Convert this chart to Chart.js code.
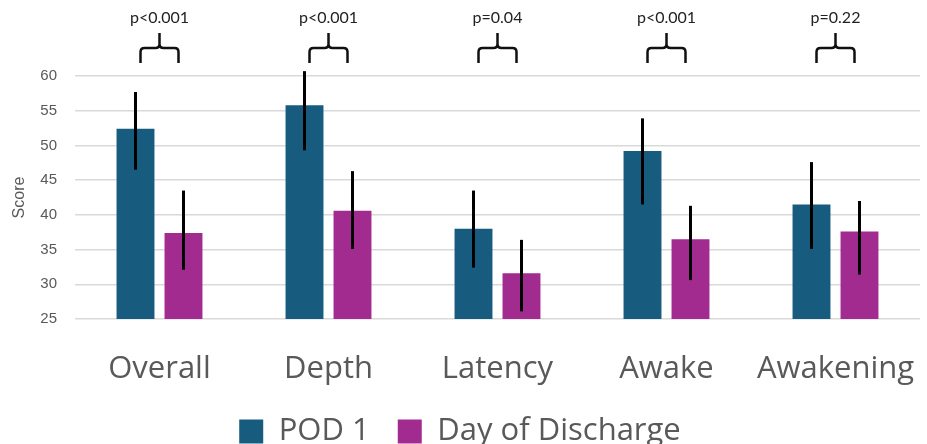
<!DOCTYPE html>
<html>
<head>
<meta charset="utf-8">
<script src="https://cdn.jsdelivr.net/npm/chart.js@4"></script>
<style>
  html, body { margin: 0; padding: 0; background: #fff; overflow: hidden; }
  #wrap { width: 927px; height: 444px; }
</style>
</head>
<body>
<div id="wrap"><canvas id="chart"></canvas></div>
<script>
// data
const categories = ['Overall', 'Depth', 'Latency', 'Awake', 'Awakening'];
const pod1 = [52.4, 55.8, 38.0, 49.2, 41.5];
const pod1Low = [46.5, 49.3, 32.4, 41.5, 35.1];
const pod1High = [57.7, 60.7, 43.5, 53.9, 47.6];
const discharge = [37.4, 40.6, 31.6, 36.5, 37.6];
const dischargeLow = [32.1, 35.1, 26.1, 30.6, 31.4];
const dischargeHigh = [43.5, 46.3, 36.4, 41.3, 42.0];
const pValues = ['p<0.001', 'p<0.001', 'p=0.04', 'p<0.001', 'p=0.22'];
const yMin = 25, yMax = 60, yStep = 5;

const errLow = [pod1Low, dischargeLow];
const errHigh = [pod1High, dischargeHigh];

const legendPad = 28;

// error bars, drawn at each bar's centre
const errorBars = {
  id: 'errorBars',
  afterDatasetsDraw(chart) {
    const ctx = chart.ctx;
    const y = chart.scales.y;
    ctx.save();
    ctx.strokeStyle = '#000';
    ctx.lineWidth = 3;
    chart.data.datasets.forEach((ds, d) => {
      chart.getDatasetMeta(d).data.forEach((bar, i) => {
        ctx.beginPath();
        ctx.moveTo(bar.x, y.getPixelForValue(errLow[d][i]));
        ctx.lineTo(bar.x, y.getPixelForValue(errHigh[d][i]));
        ctx.stroke();
      });
    });
    ctx.restore();
  }
};

// curly brackets + p values above each group
const brackets = {
  id: 'brackets',
  afterDraw(chart) {
    const ctx = chart.ctx;
    const x = chart.scales.x;
    ctx.save();
    ctx.strokeStyle = '#111';
    ctx.lineWidth = 2.5;
    ctx.lineJoin = 'round';
    ctx.fillStyle = '#222';
    ctx.font = '16px Lato';
    ctx.textAlign = 'center';
    ctx.textBaseline = 'middle';
    categories.forEach((c, i) => {
      const cx = x.getPixelForValue(i);
      const w = 19, top = 33, mid = 48, bot = 63;
      ctx.beginPath();
      ctx.moveTo(cx - w, bot);
      ctx.lineTo(cx - w, mid + 4);
      ctx.quadraticCurveTo(cx - w, mid, cx - w + 4, mid);
      ctx.lineTo(cx - 4, mid);
      ctx.quadraticCurveTo(cx, mid, cx, mid - 4);
      ctx.lineTo(cx, top);
      ctx.moveTo(cx, mid - 4);
      ctx.quadraticCurveTo(cx, mid, cx + 4, mid);
      ctx.lineTo(cx + w - 4, mid);
      ctx.quadraticCurveTo(cx + w, mid, cx + w, mid + 4);
      ctx.lineTo(cx + w, bot);
      ctx.stroke();
      ctx.fillText(pValues[i], cx, 18);
    });
    ctx.restore();
  }
};

new Chart(document.getElementById('chart'), {
  type: 'bar',
  data: {
    labels: categories,
    datasets: [
      { label: 'POD 1', data: pod1, backgroundColor: '#175b7e' },
      { label: 'Day of Discharge', data: discharge, backgroundColor: '#a22b8f' }
    ]
  },
  options: {
    responsive: true,
    maintainAspectRatio: false,
    animation: false,
    categoryPercentage: 0.568,
    barPercentage: 0.79,
    layout: { padding: { top: 76, right: 7, left: 0, bottom: -13 } },
    plugins: {
      tooltip: { enabled: false },
      legend: {
        position: 'bottom',
        labels: {
          boxWidth: 24,
          boxHeight: 24,
          padding: legendPad,
          color: '#595959',
          font: { family: 'Open Sans', size: 31 }
        }
      }
    },
    scales: {
      x: {
        grid: { display: false },
        border: { display: false },
        afterFit(s) {
          s.height = 97 - legendPad;
          s.paddingLeft = 0;
          s.paddingRight = 0;
        },
        ticks: { color: '#595959', padding: 24, font: { family: 'Open Sans', size: 31 } }
      },
      y: {
        min: yMin,
        max: yMax,
        afterFit(s) { s.width = 75; },
        ticks: { stepSize: yStep, padding: 18, color: '#595959', font: { family: 'Liberation Sans', size: 15 } },
        grid: { color: '#d9d9d9', lineWidth: 1.5, drawTicks: false },
        border: { display: false },
        title: { display: true, text: 'Score', color: '#595959', padding: { top: 10, bottom: 0 }, font: { family: 'Liberation Sans', size: 16 } }
      }
    }
  },
  plugins: [errorBars, brackets]
});
</script>
</body>
</html>
